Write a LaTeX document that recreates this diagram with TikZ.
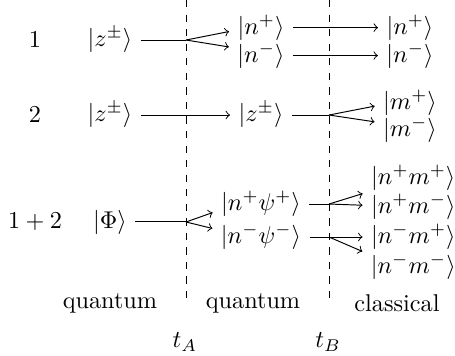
\documentclass[tikz,border=0pt]{standalone}
\usepackage{amsmath,amssymb}
\usepackage{tikz}

\begin{document}
\begin{tikzpicture}[
        state/.style={inner ysep=1pt},
        arr/.style={->},
        cut/.style={dashed},
    ]
    \useasboundingbox (0,0) rectangle (6.594,-5.159);

    % Time cuts — dashed vertical lines
    \coordinate (tAtop) at (2.696,0);
    \coordinate (tAbot) at (2.696,-4.377);
    \coordinate (tBtop) at (4.768,0);
    \coordinate (tBbot) at (4.768,-4.377);
    \draw[cut] (tAtop) -- (tAbot);
    \draw[cut] (tBtop) -- (tBbot);

    % Row 1 — particle 1
    \node (r1) at (0.507,-0.580) {$1$};
    \node[state] (z1) at (1.594,-0.580) {$|z^\pm\rangle$};
    \node[state] (np) at (3.783,-0.400) {$|n^+\rangle$};
    \node[state] (nm) at (3.783,-0.805) {$|n^-\rangle$};
    \node[state] (npc) at (5.942,-0.400) {$|n^+\rangle$};
    \node[state] (nmc) at (5.942,-0.805) {$|n^-\rangle$};
    \draw (z1) -- (z1 -| tAtop) coordinate (s1);
    \draw[arr] (s1) -- (np.187);
    \draw[arr] (s1) -- (nm.165);
    \draw[arr] (np) -- (npc);
    \draw[arr] (nm) -- (nmc);

    % Row 2 — particle 2
    \node (r2) at (0.507,-1.667) {$2$};
    \node[state] (z2) at (1.594,-1.667) {$|z^\pm\rangle$};
    \node[state] (zq) at (3.783,-1.667) {$|z^\pm\rangle$};
    \node[state] (mp) at (5.942,-1.493) {$|m^+\rangle$};
    \node[state] (mm) at (5.942,-1.884) {$|m^-\rangle$};
    \draw[arr] (z2) -- (zq);
    \draw (zq) -- (zq -| tBtop) coordinate (s2);
    \draw[arr] (s2) -- (mp.185);
    \draw[arr] (s2) -- (mm.167);

    % Row 3 — joint system
    \node (r3) at (0.507,-3.217) {$1+2$};
    \node[state] (phi) at (1.594,-3.217) {$|\Phi\rangle$};
    \node[state] (npsp) at (3.783,-2.957) {$|n^+\psi^+\rangle$};
    \node[state] (nmsm) at (3.783,-3.435) {$|n^-\psi^-\rangle$};
    \node[state] (npmp) at (5.990,-2.580) {$|n^+m^+\rangle$};
    \node[state] (npmm) at (5.990,-3.000) {$|n^+m^-\rangle$};
    \node[state] (nmmp) at (5.990,-3.435) {$|n^-m^+\rangle$};
    \node[state] (nmmm) at (5.990,-3.870) {$|n^-m^-\rangle$};
    \draw (phi) -- (phi -| tAtop) coordinate (s3);
    \draw[arr] (s3) -- (npsp.190);
    \draw[arr] (s3) -- (nmsm.170);
    \draw (npsp) -- (npsp -| tBtop) coordinate (s4);
    \draw[arr] (s4) -- (npmp.south west);
    \draw[arr] (s4) -- (npmm);
    \draw (nmsm) -- (nmsm -| tBtop) coordinate (s5);
    \draw[arr] (s5) -- (nmmp);
    \draw[arr] (s5) -- (nmmm.north west);

    % Regimes and times
    \node (qA) at (1.594,-4.391) {quantum};
    \node (qB) at (3.667,-4.391) {quantum};
    \node (cl) at (5.754,-4.391) {classical};
    \node (tA) at (2.681,-4.957) {$t_A$};
    \node (tB) at (4.754,-4.957) {$t_B$};
\end{tikzpicture}
\end{document}
